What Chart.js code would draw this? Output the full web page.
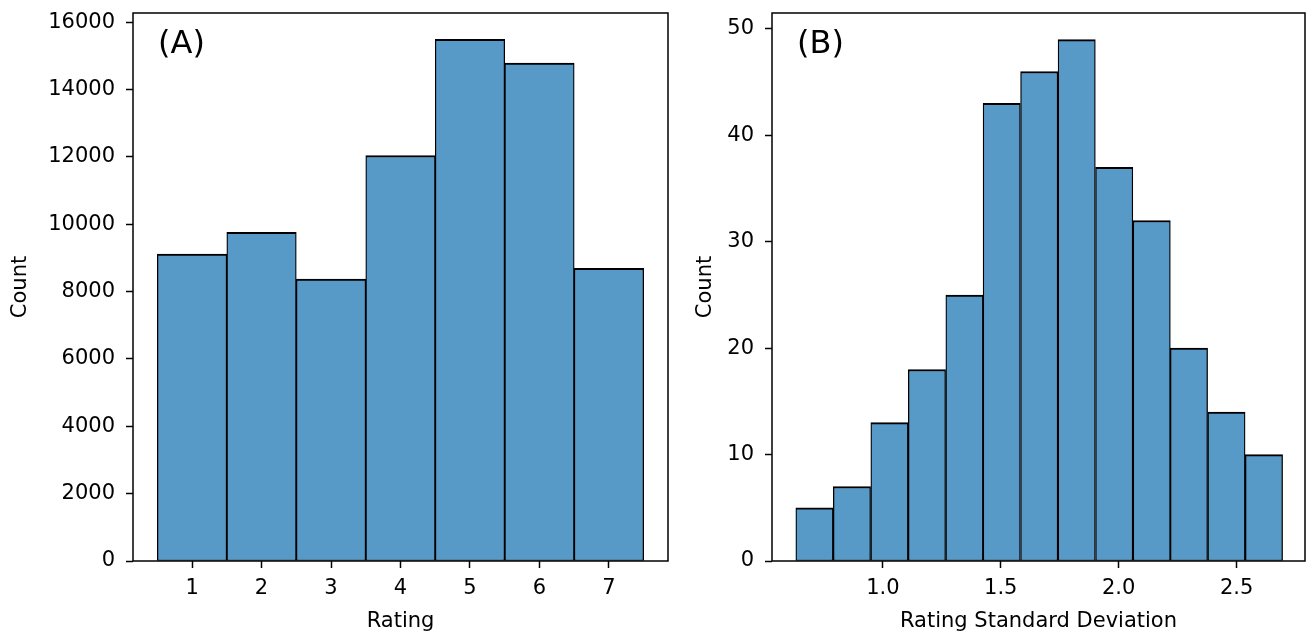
<!DOCTYPE html>
<html>
<head>
<meta charset="utf-8">
<script src="https://cdn.jsdelivr.net/npm/chart.js@4.4.1/dist/chart.umd.min.js"></script>
<style>
  body { margin: 0; background: #fff; width: 1309px; height: 634px; overflow: hidden; }
  .panel { position: absolute; top: 0; height: 634px; }
  #boxA { left: 0; width: 680px; }
  #boxB { left: 680px; width: 629px; }
</style>
</head>
<body>
<div class="panel" id="boxA"><canvas id="chartA"></canvas></div>
<div class="panel" id="boxB"><canvas id="chartB"></canvas></div>
<script>
// Panel A: rating histogram
const ratings = [1, 2, 3, 4, 5, 6, 7];
const ratingCounts = [9110, 9760, 8370, 12040, 15490, 14780, 8690];
const ratingTicks = [0, 2000, 4000, 6000, 8000, 10000, 12000, 14000, 16000];

// Panel B: rating standard deviation histogram (bin centres)
const sdBins = [0.710, 0.869, 1.028, 1.187, 1.346, 1.504, 1.663, 1.822, 1.981, 2.140, 2.298, 2.457, 2.616];
const sdCounts = [5, 7, 13, 18, 25, 43, 46, 49, 37, 32, 20, 14, 10];
const sdTicks = [1.0, 1.5, 2.0, 2.5];
const countTicks = [0, 10, 20, 30, 40, 50];

const FONT = 'DejaVu Sans';
const BAR_FILL = '#5799c7';

// frame round the plot area + panel letter
function framePlugin(letter) {
  return {
    id: 'frame' + letter,
    afterDraw(chart) {
      const { ctx, chartArea: a } = chart;
      ctx.save();
      ctx.strokeStyle = '#000';
      ctx.lineWidth = 1.5;
      ctx.strokeRect(a.left, a.top, a.right - a.left, a.bottom - a.top);
      ctx.fillStyle = '#000';
      ctx.font = '32px ' + FONT;
      ctx.textBaseline = 'middle';
      ctx.fillText('(' + letter + ')', a.left + 25, a.top + 32);
      ctx.restore();
    }
  };
}

function makeHist(id, letter, xs, ys, opts) {
  const ctx = document.getElementById(id).getContext('2d');
  return new Chart(ctx, {
    type: 'bar',
    data: {
      datasets: [{
        data: xs.map((x, i) => ({ x, y: ys[i] })),
        backgroundColor: BAR_FILL,
        borderColor: '#000',
        borderWidth: { top: 2, left: 1.3, right: 1.3, bottom: 1 },
        borderSkipped: false,
        barPercentage: 1,
        categoryPercentage: 1
      }]
    },
    options: {
      responsive: true,
      maintainAspectRatio: false,
      animation: false,
      layout: { padding: { top: 13, right: opts.padRight, left: 0, bottom: 0 } },
      plugins: { legend: { display: false }, tooltip: { enabled: false } },
      scales: {
        x: {
          type: 'linear',
          offset: false,
          min: opts.xMin,
          max: opts.xMax,
          afterBuildTicks: s => { s.ticks = opts.xTicks.map(v => ({ value: v })); },
          afterFit: s => { s.height = 73; s.paddingLeft = 0; s.paddingRight = 0; },
          grid: { offset: false, drawOnChartArea: false, drawTicks: true, tickLength: 7, tickColor: '#000', tickWidth: 1.5 },
          border: { display: false },
          ticks: {
            font: { family: FONT, size: 21 },
            color: '#000',
            padding: 8,
            maxRotation: 0,
            callback: v => opts.xFmt(v)
          },
          title: { display: true, text: opts.xTitle, color: '#000', font: { family: FONT, size: 21 }, padding: { top: 0, bottom: 0 } }
        },
        y: {
          min: 0,
          max: opts.yMax,
          afterBuildTicks: s => { s.ticks = opts.yTicks.map(v => ({ value: v })); },
          afterFit: s => { s.width = opts.yWidth; s.paddingTop = 0; s.paddingBottom = 0; },
          grid: { drawOnChartArea: false, drawTicks: true, tickLength: 7, tickColor: '#000', tickWidth: 1.5 },
          border: { display: false },
          ticks: { font: { family: FONT, size: 21 }, color: '#000', padding: 11, callback: v => String(v) },
          title: { display: true, text: 'Count', color: '#000', font: { family: FONT, size: 21 }, padding: { top: opts.yTitlePad, bottom: 0 } }
        }
      }
    },
    plugins: [framePlugin(letter)]
  });
}

makeHist('chartA', 'A', ratings, ratingCounts, {
  xMin: 0.15, xMax: 7.85, xTicks: ratings, xFmt: v => String(v), xTitle: 'Rating',
  yMax: 16270, yTicks: ratingTicks, yWidth: 133, padRight: 12, yTitlePad: 8
});

makeHist('chartB', 'B', sdBins, sdCounts, {
  xMin: 0.53, xMax: 2.79, xTicks: sdTicks, xFmt: v => v.toFixed(1), xTitle: 'Rating Standard Deviation',
  yMax: 51.5, yTicks: countTicks, yWidth: 92, padRight: 4, yTitlePad: 13
});
</script>
</body>
</html>
